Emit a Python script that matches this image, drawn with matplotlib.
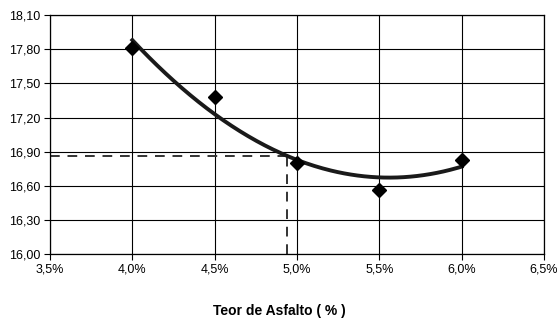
import numpy as np
import matplotlib
matplotlib.use('Agg')
import matplotlib.pyplot as plt
from matplotlib.ticker import FuncFormatter

# ensaio - teor de asfalto x valor medido
teor = [4.0, 4.5, 5.0, 5.5, 6.0]
valores = [17.81, 17.38, 16.80, 16.56, 16.83]

# teor de projeto marcado no grafico
teor_proj = 4.94

x_ticks = [3.5, 4.0, 4.5, 5.0, 5.5, 6.0, 6.5]
y_ticks = [16.00, 16.30, 16.60, 16.90, 17.20, 17.50, 17.80, 18.10]

plt.rcParams['font.family'] = ['Liberation Sans', 'DejaVu Sans']

fig = plt.figure(figsize=(5.58, 3.22), dpi=100)
ax = fig.add_axes([0.0896, 0.211, 0.8854, 0.742])

# linha de tendencia polinomial (ordem 2), como no Excel
coef = np.polyfit(teor, valores, 2)
xs = np.linspace(teor[0], teor[-1], 200)
ax.plot(xs, np.polyval(coef, xs), color='#1a1a1a', lw=2.8, zorder=3)

ax.plot(teor, valores, linestyle='none', marker='D', ms=7,
        color='black', zorder=4)

# linhas tracejadas do teor de projeto
y_proj = np.polyval(coef, teor_proj)
ax.plot([x_ticks[0], teor_proj], [y_proj, y_proj], color='#333333',
        lw=1.4, ls=(0, (5, 4)), zorder=2)
ax.plot([teor_proj, teor_proj], [y_ticks[0], y_proj], color='#333333',
        lw=1.4, ls=(0, (5, 4)), zorder=2)

ax.set_xlim(x_ticks[0], x_ticks[-1])
ax.set_ylim(y_ticks[0], y_ticks[-1])
ax.set_xticks(x_ticks)
ax.set_yticks(y_ticks)
ax.xaxis.set_major_formatter(FuncFormatter(lambda v, p: f'{v:.1f}%'.replace('.', ',')))
ax.yaxis.set_major_formatter(FuncFormatter(lambda v, p: f'{v:.2f}'.replace('.', ',')))
ax.tick_params(labelsize=9, length=4, width=0.8, color='black', pad=3)
ax.grid(True, color='black', lw=0.8)
for s in ax.spines.values():
    s.set_color('black')
    s.set_linewidth(0.9)

fig.text(0.5, 0.035, 'Teor de Asfalto ( % )', ha='center', va='center',
         fontsize=10, fontweight='bold')

fig.savefig('out.png', dpi=100)
